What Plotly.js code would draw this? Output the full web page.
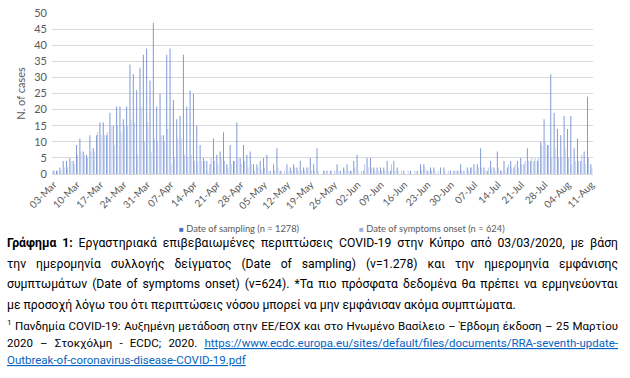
<!DOCTYPE html>
<html>
<head>
<meta charset="utf-8">
<script src="https://cdn.plot.ly/plotly-3.0.1.min.js"></script>
<style>
html,body{margin:0;padding:0;background:#fff;}
#chart{width:630px;height:378px;}
</style>
</head>
<body>
<div id="chart"></div>
<script>
// Daily cases, starting 03-Mar-2020 (one value per day up to 11-Aug-2020)
var startDate = '2020-03-03';
var samplingCases = [1,1,2,4,4,5,4,9,11,7, 6,12,8,12,16,16,12,19,15,21, 21,17,21,34,31,26,33,37,39,29,
  47,21,25,12,37,39,23,17,18,37, 21,26,25,15,9,5,4,3,11,6, 7,13,3,9,4,16,5,9,6,7,
  3,3,4,5,6,1,3,8,1,0, 3,2,3,2,4,2,2,5,3,8, 0,1,1,1,0,3,1,2,3,1,
  4,6,0,1,5,5,2,2,2,2, 4,1,4,2,0,1,0,1,0,1, 3,3,1,2,2,0,2,2,0,1,
  1,1,3,1,2,2,3,3,8,2, 1,4,2,7,1,4,2,4,2,4, 5,3,8,4,4,4,10,17,9,31,
  19,14,12,18,14,18,8,11,4,7, 24,3];
var symptomsCases = [1,1,1,2,2,4,3,6,7,6, 5,7,7,13,12,12,13,15,9,15, 13,15,15,17,16,6,21,10,16,7,
  11,10,12,10,14,3,5,11,11,6, 5,6,4,4,4,4,1,5,4,3, 5,4,2,3,4,5,3,4,2,3,
  1,2,1,2,1,0,1,2,1,1, 1,1,2,1,1,1,2,1,1,1, 0,1,0,1,1,1,0,1,1,1,
  2,1,1,3,2,2,1,1,1,1, 1,3,1,1,1,0,1,0,1,0, 1,2,1,1,1,1,0,1,1,0,
  1,1,1,0,1,2,1,2,2,1, 2,2,1,2,1,1,3,2,3,2, 3,4,4,5,5,5,9,10,9,5,
  8,5,5,8,5,3,4,4,6,3, 5,2];
var tickDates = ['2020-03-03','2020-03-10','2020-03-17','2020-03-24','2020-03-31','2020-04-07','2020-04-14',
  '2020-04-21','2020-04-28','2020-05-05','2020-05-12','2020-05-19','2020-05-26','2020-06-02','2020-06-09',
  '2020-06-16','2020-06-23','2020-06-30','2020-07-07','2020-07-14','2020-07-21','2020-07-28','2020-08-04','2020-08-11'];
var tickLabels = ['03-Mar','10-Mar','17-Mar','24-Mar','31-Mar','07-Apr','14-Apr','21-Apr','28-Apr','05-May',
  '12-May','19-May','26-May','02-Jun','09-Jun','16-Jun','23-Jun','30-Jun','07-Jul','14-Jul','21-Jul','28-Jul',
  '04-Aug','11-Aug'];
var seriesNames = ['Date of sampling (n = 1278)','Date of symptoms onset (n = 624)'];
var yTitle = 'N. of cases';
var captionLines = [
  '<b>Γράφημα 1:</b> Εργαστηριακά επιβεβαιωμένες περιπτώσεις COVID-19 στην Κύπρο από 03/03/2020, με βάση',
  'την ημερομηνία συλλογής δείγματος (Date of sampling) (ν=1.278) και την ημερομηνία εμφάνισης',
  'συμπτωμάτων (Date of symptoms onset) (ν=624). *Τα πιο πρόσφατα δεδομένα θα πρέπει να ερμηνεύονται',
  'με προσοχή λόγω του ότι περιπτώσεις νόσου μπορεί να μην εμφάνισαν ακόμα συμπτώματα.'
];
var footnoteLines = [
  '<sup>1</sup> Πανδημία COVID-19: Αυξημένη μετάδοση στην ΕΕ/ΕΟΧ και στο Ηνωμένο Βασίλειο – Έβδομη έκδοση – 25 Μαρτίου',
  '2020 – Στοκχόλμη - ECDC; 2020. <span style="color:#0563C1;text-decoration:underline">https://www.ecdc.europa.eu/sites/default/files/documents/RRA-seventh-update-</span>',
  '<span style="color:#0563C1;text-decoration:underline">Outbreak-of-coronavirus-disease-COVID-19.pdf</span>'
];

var dates = [];
(function(){
  var d0 = new Date(startDate + 'T00:00:00Z');
  for (var i = 0; i < samplingCases.length; i++) {
    var d = new Date(d0.getTime() + i * 86400000);
    dates.push(d.toISOString().slice(0,10));
  }
})();

var colSampling = '#7f99d6', colSymptoms = '#b7c6ec';
var legSampling = '#4a6fbf', legSymptoms = '#9db2e2';

var traces = [
  {type:'bar', name:seriesNames[0], x:dates, y:samplingCases, marker:{color:colSampling}, showlegend:false},
  {type:'bar', name:seriesNames[1], x:dates, y:symptomsCases, marker:{color:colSymptoms}, showlegend:false}
];

var plotLeft = 52, plotW = 541, plotTop = 13, plotBottom = 174, plotH = plotBottom - plotTop;
function py(px){ return (plotBottom - px) / plotH; }
function pxx(px){ return (px - plotLeft) / plotW; }

var annotations = [];
annotations.push({xref:'paper', yref:'paper', x:pxx(177), y:py(228), xanchor:'left', yanchor:'middle', showarrow:false,
  text:'<span style="color:'+legSampling+';font-size:8px">■</span> '+seriesNames[0], font:{family:'Lato, Liberation Sans, sans-serif', size:9.3, color:'#595959'}});
annotations.push({xref:'paper', yref:'paper', x:pxx(357), y:py(228), xanchor:'left', yanchor:'middle', showarrow:false,
  text:'<span style="color:'+legSymptoms+';font-size:8px">■</span> '+seriesNames[1], font:{family:'Lato, Liberation Sans, sans-serif', size:9.3, color:'#595959'}});

var textLeft = 5, textRight = 616;
var justifyIdx = [];
var capY = [243, 264, 284, 305];
captionLines.forEach(function(t, i){
  if (i < 3) justifyIdx.push(annotations.length);
  annotations.push({xref:'paper', yref:'paper', x:pxx(textLeft), y:py(capY[i]), xanchor:'left', yanchor:'middle',
    text:t, showarrow:false, align:'left', font:{family:'Roboto, Noto Sans, sans-serif', size:12.2, color:'#000'}});
});
var fnY = [325, 343, 360];
footnoteLines.forEach(function(t, i){
  if (i < 2) justifyIdx.push(annotations.length);
  annotations.push({xref:'paper', yref:'paper', x:pxx(textLeft), y:py(fnY[i]), xanchor:'left', yanchor:'middle',
    text:t, showarrow:false, align:'left', font:{family:'Roboto, Noto Sans, sans-serif', size:11.5, color:'#000'}});
});

var layout = {
  width:630, height:378,
  margin:{l:plotLeft, r:630-plotLeft-plotW, t:plotTop, b:378-plotBottom},
  paper_bgcolor:'#fff', plot_bgcolor:'#fff',
  barmode:'group', bargap:0.4, bargroupgap:0,
  font:{family:'Lato, Liberation Sans, sans-serif', color:'#595959'},
  xaxis:{type:'date', range:['2020-03-02 12:00','2020-08-11 12:00'],
    tickmode:'array', tickvals:tickDates, ticktext:tickLabels, tickangle:-45,
    tickfont:{size:10, color:'#595959'}, showgrid:false, zeroline:false,
    showline:true, linecolor:'#d9d9d9', ticks:'', fixedrange:true},
  yaxis:{range:[0,50], dtick:5, showgrid:true, gridcolor:'#d9d9d9', gridwidth:1,
    zeroline:false, showline:false, ticks:'', tickfont:{size:11, color:'#595959'}, ticklabelstandoff:4,
    title:{text:yTitle, font:{size:11, color:'#595959'}, standoff:6}},
  showlegend:false,
  annotations:annotations
};

function countGaps(html) {
  var plain = html.replace(/<[^>]*>/g, '');
  return (plain.match(/ /g) || []).length;
}

var gd = document.getElementById('chart');
Plotly.newPlot(gd, traces, layout, {displayModeBar:false, staticPlot:true}).then(function(){
  // justify lines to the text block width using word-spacing on the drawn SVG text
  justifyIdx.forEach(function(idx){
    var el = gd.querySelector('g.annotation[data-index="' + idx + '"] text.annotation-text');
    if (!el) return;
    var n = countGaps(annotations[idx].text);
    if (!n) return;
    var w0 = el.getBBox().width;
    var target = textRight - textLeft;
    var ws = (target - w0) / n;
    if (ws <= 0) return;
    el.style.wordSpacing = ws + 'px';
    var w1 = el.getBBox().width;
    if (Math.abs(w1 - w0) > 0.5) {
      var ws2 = ws * (target - w0) / (w1 - w0);
      el.style.wordSpacing = ws2 + 'px';
    }
  });
});
</script>
</body>
</html>
